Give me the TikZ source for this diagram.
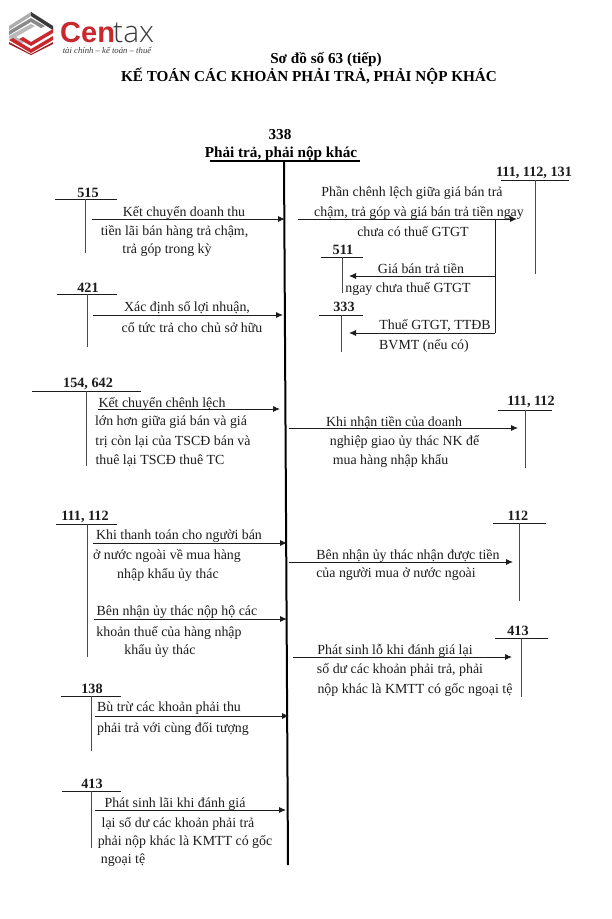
\documentclass[tikz,border=0pt]{standalone}
\usepackage{fontspec}
\setmainfont{Liberation Serif}
\newfontfamily\logofont{Liberation Sans}
\newfontfamily\logothin{Open Sans Light}
\usetikzlibrary{arrows.meta}
\definecolor{ink}{HTML}{1C1C1C}
\definecolor{logored}{HTML}{C8282E}
\definecolor{logogrey}{HTML}{8A8A8A}
\definecolor{logodark}{HTML}{3A3A3A}
\tikzset{
  body/.style={anchor=center,inner sep=0pt,yshift=-1.5pt,text=ink,font=\fontsize{13.9}{15}\selectfont},
  acclabel/.style={anchor=center,inner sep=0pt,yshift=-0.8pt,text=ink,font=\fontsize{14.2}{15}\selectfont\bfseries},
  title/.style={anchor=center,inner sep=0pt,text=black,font=\fontsize{15.2}{17}\selectfont\bfseries},
  accline/.style={draw=ink,line width=0.8pt},
  accstem/.style={draw=ink!80,line width=0.9pt},
  flow/.style={draw=ink,line width=0.9pt,-{Latex[length=7pt,width=6pt]}},
  branch/.style={draw=ink,line width=0.9pt},
  mainline/.style={draw=black,line width=2pt},
}
\newcounter{txt}
\newcommand{\tx}[3]{\stepcounter{txt}\node[body] (t\arabic{txt}) at (#1,#2) {#3};}
% name, label, lx, ly, x1, x2, yh, xv, yend
\newcommand{\tacc}[9]{%
  \node[acclabel] (#1) at (#3,#4) {#2};
  \coordinate (#1-l) at (#5,#7);
  \coordinate (#1-r) at (#6,#7);
  \coordinate (#1-t) at (#8,#7);
  \coordinate (#1-b) at (#8,#9);
  \draw[accline] (#1-l) -- (#1-r);
  \draw[accstem] (#1-t) -- (#1-b);
}
% name, x1, x2, y
\newcommand{\flw}[4]{%
  \coordinate (#1-s) at (#2,#4);
  \coordinate (#1-e) at (#3,#4);
  \draw[flow] (#1-s) -- (#1-e);
}
\begin{document}
\begin{tikzpicture}[x=1pt,y=-1pt]
\useasboundingbox (0,0) rectangle (612,919);
\fill[white] (0,0) rectangle (612,919);

% logo
\fill[logogrey!70] (9,26) -- (31,12) -- (53,26) -- (53,30) -- (31,16) -- (9,30) -- cycle;
\fill[logodark] (31,12) -- (53,26) -- (53,30) -- (31,16) -- cycle;
\fill[logogrey] (9,31) -- (31,18) -- (45,26) -- (41,28) -- (31,22) -- (9,35) -- cycle;
\fill[logogrey!60] (9,36) -- (31,24) -- (35,26) -- (16,37) -- (24,42) -- (20,44) -- (9,38) -- cycle;
\fill[logored] (9,40) -- (31,53) -- (53,40) -- (53,36) -- (31,49) -- (13,38) -- cycle;
\fill[logored] (53,33) -- (31,46) -- (19,39) -- (23,37) -- (31,42) -- (53,29) -- cycle;
\fill[logored!80!black] (53,42) -- (31,54) -- (9,42) -- (9,44) -- (31,55) -- (53,44) -- cycle;
\node[inner sep=0pt,anchor=base west,text=logored,font=\logofont\bfseries\fontsize{29}{29}\selectfont] (logoa) at (60,42.5) {Cen};
\node[inner sep=0pt,anchor=base west,text=logodark,font=\logothin\fontsize{30}{30}\selectfont] (logob) at (113,42.5) {tax};
\node[inner sep=0pt,anchor=center,text=logodark,font=\itshape\fontsize{8.7}{9}\selectfont] (logoc) at (107,50.5) {tài chính -- kế toán -- thuế};

% titles
\node[title] (title1) at (326,59.5) {Sơ đồ số 63 (tiếp)};
\node[title] (title2) at (309,76) {KẾ TOÁN CÁC KHOẢN PHẢI TRẢ, PHẢI NỘP KHÁC};
\node[title] (n338) at (280,135) {338};
\node[title] (n338b) at (281,153.5) {Phải trả, phải nộp khác};

% main account
\coordinate (ml) at (210,161);
\coordinate (mr) at (360,161);
\coordinate (mt) at (284,161);
\coordinate (mb) at (288,865);
\draw[mainline] (ml) -- (mr);
\draw[mainline] (mt) -- (mb);

% left accounts
\tacc{a515}{515}{88}{192}{55}{117}{199}{85}{253}
\flw{f515}{92}{285}{219}
\tx{184}{211}{Kết chuyển doanh thu}
\tx{174.5}{230}{tiền lãi bán hàng trả chậm,}
\tx{167}{249}{trả góp trong kỳ}

\tacc{a421}{421}{88}{287}{57}{117}{294}{87}{347}
\flw{f421}{93}{283}{315}
\tx{187}{306}{Xác định số lợi nhuận,}
\tx{192}{326}{cổ tức trả cho chủ sở hữu}

\tacc{a154}{154, 642}{88}{383}{32}{141}{391}{86}{466}
\flw{f154}{98}{280}{409}
\tx{162}{402}{Kết chuyển chênh lệch}
\tx{171}{421}{lớn hơn giữa giá bán và giá}
\tx{173}{440}{trị còn lại của TSCĐ bán và}
\tx{160}{459}{thuê lại TSCĐ thuê TC}

\tacc{a111}{111, 112}{85}{516}{56}{117}{524}{87}{657}
\flw{f111a}{93}{287}{543}
\tx{179}{535}{Khi thanh toán cho người bán}
\tx{167}{554}{ở nước ngoài về mua hàng}
\tx{168}{573}{nhập khẩu ủy thác}
\flw{f111b}{94}{287}{619}
\tx{177}{611}{Bên nhận ủy thác nộp hộ các}
\tx{169}{631}{khoản thuế của hàng nhập}
\tx{160}{649}{khẩu ủy thác}

\tacc{a138}{138}{92}{688}{61}{121}{696}{91}{751}
\flw{f138}{95}{289}{716}
\tx{169}{707}{Bù trừ các khoản phải thu}
\tx{173}{727}{phải trả với cùng đối tượng}

\tacc{a413}{413}{92}{783}{62}{121}{791}{91}{848}
\flw{f413}{95}{286}{810}
\tx{175}{803}{Phát sinh lãi khi đánh giá}
\tx{178}{822}{lại số dư các khoản phải trả}
\tx{185}{840}{phải nộp khác là KMTT có gốc}
\tx{123}{859}{ngoại tệ}

% right accounts
\tacc{b111}{111, 112, 131}{534}{172}{501}{569}{180}{535}{274}
\flw{g111}{298}{517}{219}
\tx{412}{191}{Phần chênh lệch giữa giá bán trả}
\tx{419}{211}{chậm, trả góp và giá bán trả tiền ngay}
\tx{413}{230}{chưa có thuế GTGT}

\coordinate (br1) at (495,219);
\coordinate (br2) at (495,276);
\coordinate (br3) at (495,333);
\draw[branch] (br1) -- (br3);

\tacc{b511}{511}{343}{249}{321}{363}{257}{342}{293}
\coordinate (g511e) at (349,276);
\draw[flow] (br2) -- (g511e);
\tx{421}{267}{Giá bán trả tiền}
\tx{408}{287}{ngay chưa thuế GTGT}

\tacc{b333}{333}{344}{306}{319}{363}{315}{341}{352}
\coordinate (g333e) at (349,333);
\draw[flow] (br3) -- (g333e);
\tx{435}{324}{Thuế GTGT, TTĐB}
\tx{424}{344}{BVMT (nếu có)}

\tacc{c111}{111, 112}{531}{401}{498}{552}{410}{525}{468}
\flw{g112a}{289}{518}{428}
\tx{394}{421}{Khi nhận tiền của doanh}
\tx{404.5}{440}{nghiệp giao ủy thác NK để}
\tx{390.5}{459}{mua hàng nhập khẩu}

\tacc{c112}{112}{518}{515}{493}{546}{523}{519}{601}
\flw{g112b}{289}{513}{562}
\tx{408}{554}{Bên nhận ủy thác nhận được tiền}
\tx{396}{573}{của người mua ở nước ngoài}

\tacc{c413}{413}{518}{630}{495}{548}{638}{521}{697}
\flw{g413}{293}{512}{657}
\tx{395}{649}{Phát sinh lỗ khi đánh giá lại}
\tx{400}{668}{số dư các khoản phải trả, phải}
\tx{415}{688}{nộp khác là KMTT có gốc ngoại tệ}
\end{tikzpicture}
\end{document}
